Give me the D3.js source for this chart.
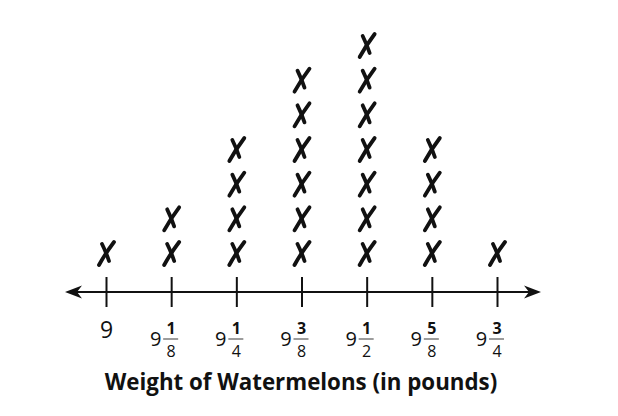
<!DOCTYPE html>
<html><head><meta charset="utf-8">
<script src="https://cdn.jsdelivr.net/npm/d3@7/dist/d3.min.js"></script>
<style>html,body{margin:0;padding:0;background:#fff;}svg{display:block;}</style>
</head><body>
<svg id="c" width="618" height="416"></svg>
<script>
const weights = [9, 9.125, 9.25, 9.375, 9.5, 9.625, 9.75];
const counts = [1, 2, 4, 6, 7, 4, 1];
const tickWhole = ["9", "9", "9", "9", "9", "9", "9"];
const tickNum = ["", "1", "1", "3", "1", "5", "3"];
const tickDen = ["", "8", "4", "8", "2", "8", "4"];
const axisTitle = "Weight of Watermelons (in pounds)";

const svg = d3.select("#c");
const x = d3.scaleLinear().domain([9, 9.75]).range([106, 497]);
const y = d3.scaleLinear().domain([0, 6]).range([253, 45]);
const axisY = 292;

// axis line
svg.append("line").attr("x1", 70).attr("x2", 535).attr("y1", axisY).attr("y2", axisY)
  .attr("stroke", "#111").attr("stroke-width", 2);
// arrowheads
function arrow(tipX, dir) {
  const p = d3.path();
  p.moveTo(tipX, axisY);
  p.lineTo(tipX + dir * 17, axisY - 6.5);
  p.lineTo(tipX + dir * 12, axisY);
  p.lineTo(tipX + dir * 17, axisY + 6.5);
  p.closePath();
  svg.append("path").attr("d", p.toString()).attr("fill", "#111");
}
arrow(65, 1);
arrow(541, -1);

// ticks via d3 axis
const axis = d3.axisBottom(x).tickValues(weights).tickSize(0).tickFormat("");
const g = svg.append("g").attr("transform", `translate(0,${axisY})`).call(axis);
g.select(".domain").remove();
g.selectAll(".tick").append("line").attr("y1", -15).attr("y2", 15)
  .attr("stroke", "#111").attr("stroke-width", 2);

// tick labels (mixed numbers)
const lbl = svg.append("g").attr("font-family", "'Open Sans', sans-serif").attr("fill", "#111");
weights.forEach((w, i) => {
  const cx = x(w);
  if (!tickNum[i]) {
    lbl.append("text").attr("x", cx + 0.5).attr("y", 338).attr("text-anchor", "middle")
      .attr("font-size", 23).text(tickWhole[i]);
  } else {
    lbl.append("text").attr("x", cx - 15.5).attr("y", 346).attr("text-anchor", "middle")
      .attr("font-size", 20).text(tickWhole[i]);
    lbl.append("text").attr("x", cx).attr("y", 334).attr("text-anchor", "middle")
      .attr("font-size", 16).attr("font-weight", 700).text(tickNum[i]);
    lbl.append("line").attr("x1", cx - 8).attr("x2", cx + 7).attr("y1", 339).attr("y2", 339)
      .attr("stroke", "#666").attr("stroke-width", 1.3);
    lbl.append("text").attr("x", cx).attr("y", 357).attr("text-anchor", "middle")
      .attr("font-size", 16).text(tickDen[i]);
  }
});

// title
svg.append("text").attr("x", 301).attr("y", 390).attr("text-anchor", "middle")
  .attr("font-family", "'Open Sans', sans-serif").attr("font-weight", 700)
  .attr("font-size", 22.3).attr("fill", "#111").text(axisTitle);

// X marks
const marks = [];
weights.forEach((w, i) => { for (let k = 0; k < counts[i]; k++) marks.push({ w, k }); });
const mg = svg.append("g").attr("stroke", "#111").attr("fill", "none")
  .attr("stroke-linecap", "round").attr("stroke-width", 3.8);
const xs = mg.selectAll("g.m").data(marks).join("g").attr("class", "m")
  .attr("transform", d => `translate(${x(d.w)},${y(d.k)})`);
xs.append("path").attr("d", "M-7,12 Q-1,1 8,-11");
xs.append("path").attr("d", "M-4,-9 Q0,-1 3,8");
</script>
</body></html>
